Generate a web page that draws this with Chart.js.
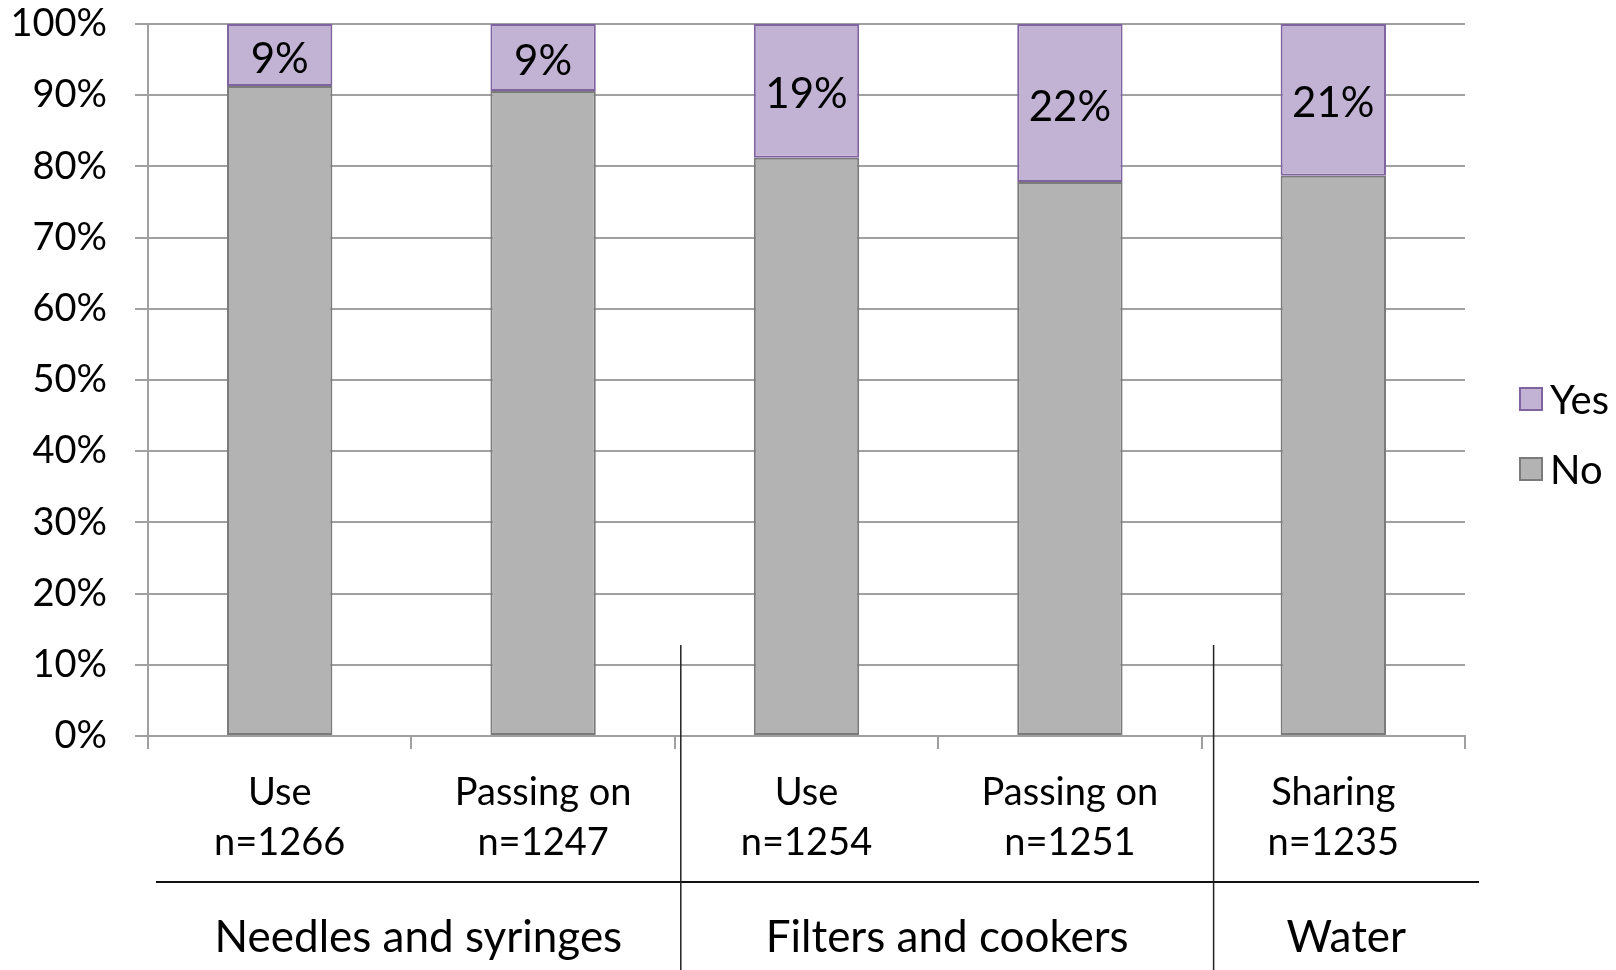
<!DOCTYPE html>
<html>
<head>
<meta charset="utf-8">
<script src="https://cdn.jsdelivr.net/npm/chart.js@4/dist/chart.umd.min.js"></script>
<style>
  html, body { margin: 0; padding: 0; background: #ffffff; }
  #wrap { width: 1616px; height: 970px; position: relative; }
</style>
</head>
<body>
<div id="wrap"><canvas id="c" width="1616" height="970"></canvas></div>
<script>
// ---- data ----
const categoryNames = ["Use", "Passing on", "Use", "Passing on", "Sharing"];
const sampleSizes = ["n=1266", "n=1247", "n=1254", "n=1251", "n=1235"];
const groupNames = ["Needles and syringes", "Filters and cookers", "Water"];
const groupSpans = [2, 2, 1];
const noValues = [91.3, 90.6, 81.2, 77.8, 78.7];
const yesValues = [8.7, 9.4, 18.8, 22.2, 21.3];
const yTicks = [0, 10, 20, 30, 40, 50, 60, 70, 80, 90, 100];

const FONT = "Lato, 'Open Sans', sans-serif";
const labels = categoryNames.map((c, i) => [c, sampleSizes[i]]);

const dataLabelPlugin = {
  id: 'dataLabels',
  afterDatasetsDraw(chart) {
    const ctx = chart.ctx;
    const meta = chart.getDatasetMeta(1);
    ctx.save();
    ctx.font = "42px " + FONT;
    ctx.fillStyle = "#000";
    ctx.textAlign = "center";
    ctx.textBaseline = "middle";
    meta.data.forEach((bar, i) => {
      const y = (bar.y + bar.base) / 2;
      ctx.fillText(Math.round(yesValues[i]) + "%", bar.x, y + 4);
    });
    ctx.restore();
  }
};

const groupPlugin = {
  id: 'groups',
  afterDraw(chart) {
    const ctx = chart.ctx;
    const xs = chart.scales.x;
    const area = chart.chartArea;
    const left = area.left + 8;
    const right = area.right + 14;
    const lineY = 882;
    ctx.save();
    ctx.strokeStyle = "#111";
    ctx.lineWidth = 2;
    ctx.beginPath();
    ctx.moveTo(left, lineY);
    ctx.lineTo(right, lineY);
    ctx.stroke();
    let start = 0;
    let prevX = left;
    const extra = [6, 12];
    ctx.font = "44px " + FONT;
    ctx.fillStyle = "#000";
    ctx.textAlign = "center";
    ctx.textBaseline = "middle";
    groupSpans.forEach((span, g) => {
      const end = start + span;
      let sepX;
      if (end < categoryNames.length) {
        sepX = (xs.getPixelForValue(end - 1) + xs.getPixelForValue(end)) / 2 + extra[g];
        ctx.strokeStyle = "#222";
        ctx.lineWidth = 1.5;
        ctx.beginPath();
        ctx.moveTo(sepX, 645);
        ctx.lineTo(sepX, 970);
        ctx.stroke();
      } else {
        sepX = right;
      }
      ctx.fillText(groupNames[g], (prevX + sepX) / 2, 938);
      prevX = sepX;
      start = end;
    });
    ctx.restore();
  }
};

const legendPlugin = {
  id: 'customLegend',
  afterDraw(chart) {
    const ctx = chart.ctx;
    const area = chart.chartArea;
    const items = [chart.data.datasets[1], chart.data.datasets[0]];
    const bx = area.right + 54;
    const centers = [399, 469];
    ctx.save();
    ctx.font = "40px " + FONT;
    ctx.textAlign = "left";
    ctx.textBaseline = "middle";
    items.forEach((ds, i) => {
      const cy = centers[i];
      ctx.fillStyle = ds.backgroundColor;
      ctx.fillRect(bx, cy - 12, 24, 24);
      ctx.strokeStyle = ds.borderColor;
      ctx.lineWidth = 2;
      ctx.strokeRect(bx + 1, cy - 11, 22, 22);
      ctx.fillStyle = "#000";
      ctx.fillText(ds.label, bx + 31, cy + 2);
    });
    ctx.restore();
  }
};

new Chart(document.getElementById('c'), {
  type: 'bar',
  data: {
    labels: labels,
    datasets: [
      { label: "No", data: noValues, backgroundColor: "#b3b3b3", borderColor: "#7b7b7b", borderWidth: 2, borderSkipped: false },
      { label: "Yes", data: yesValues, backgroundColor: "#c2b2d4", borderColor: "#7f64a0", borderWidth: 2, borderSkipped: false }
    ]
  },
  options: {
    responsive: false,
    animation: false,
    devicePixelRatio: 1,
    layout: { padding: { top: 24, right: 151, left: 0, bottom: 0 } },
    plugins: { legend: { display: false }, tooltip: { enabled: false } },
    datasets: { bar: { barPercentage: 0.4, categoryPercentage: 1.0 } },
    scales: {
      x: {
        stacked: true,
        afterFit(s) { s.height = 234; s.paddingLeft = 0; s.paddingRight = 0; },
        grid: { display: true, drawOnChartArea: false, drawTicks: true, tickLength: 13, color: "#a0a0a0", lineWidth: 2, offset: true },
        border: { display: true, color: "#a0a0a0", width: 2 },
        ticks: { color: "#000", font: { family: FONT, size: 38, lineHeight: 50 / 38 }, padding: 19, maxRotation: 0, autoSkip: false }
      },
      y: {
        stacked: true,
        min: 0,
        max: 100,
        afterFit(s) { s.width = 148; s.paddingTop = 0; s.paddingBottom = 0; },
        afterBuildTicks(s) { s.ticks = yTicks.map(v => ({ value: v })); },
        grid: { color: "#a0a0a0", lineWidth: 2, tickLength: 13, drawTicks: true },
        border: { display: true, color: "#a0a0a0", width: 2 },
        ticks: { color: "#000", font: { family: FONT, size: 38 }, padding: 28, callback: v => v + "%" }
      }
    }
  },
  plugins: [dataLabelPlugin, groupPlugin, legendPlugin]
});
</script>
</body>
</html>
